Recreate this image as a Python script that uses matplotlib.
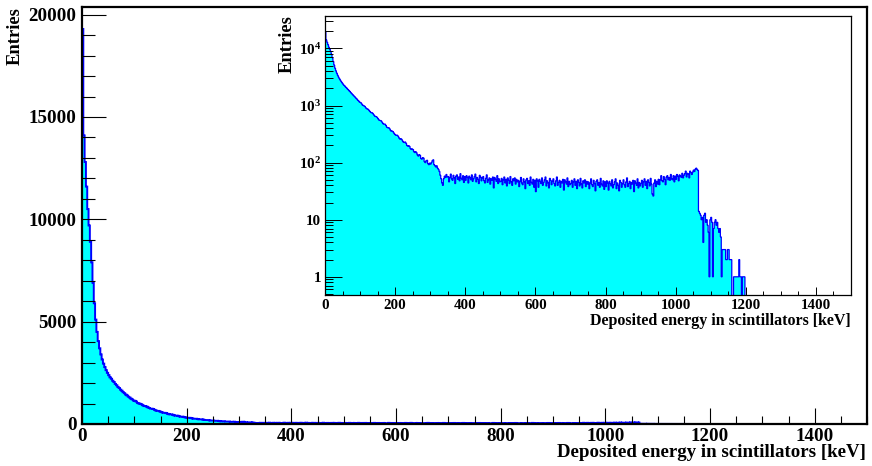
import numpy as np
import matplotlib
matplotlib.use("Agg")
import matplotlib.pyplot as plt
from matplotlib.ticker import MultipleLocator, FixedLocator, FixedFormatter, NullFormatter

plt.rcParams['font.family'] = ['Liberation Serif', 'DejaVu Serif']
plt.rcParams['font.weight'] = 'bold'
plt.rcParams['mathtext.fontset'] = 'custom'
plt.rcParams['mathtext.rm'] = 'Liberation Serif:bold'
plt.rcParams['mathtext.bf'] = 'Liberation Serif:bold'

# histogram: 2.5 keV bins from 0 to 1500 keV
bin_width = 2.5
bin_edges = np.arange(0, 1500 + bin_width, bin_width)

# 0-100 keV
counts_0_100 = [19300, 14100, 12800, 11600, 10500, 9700, 8900, 7900, 6900, 5900,
                5100, 4500, 4050, 3700, 3400, 3150, 2950, 2780, 2630, 2500,
                2385, 2280, 2210, 2115, 2050, 1960, 1895, 1815, 1760, 1680,
                1625, 1555, 1505, 1440, 1395, 1335, 1295, 1238, 1200, 1148]
# 100-300 keV
counts_100_300 = [1130, 1095, 1030, 1005, 985, 965, 918, 880, 872, 851,
                  812, 780, 752, 748, 730, 695, 662, 642, 640, 618,
                  588, 560, 548, 545, 530, 500, 478, 470, 472, 448,
                  420, 408, 410, 398, 372, 356, 358, 350, 332, 316,
                  305, 300, 302, 288, 270, 258, 262, 256, 240, 228,
                  225, 230, 218, 200, 194, 198, 192, 176, 170, 174,
                  168, 155, 150, 156, 149, 136, 130, 138, 134, 118,
                  115, 122, 120, 104, 100, 108, 110, 96, 92, 98]
# 300-350 keV (Compton edge of the 511 keV line)
counts_300_350 = [94, 100, 108, 112, 92, 88, 84, 88, 80, 76,
                  70, 60, 52, 44, 40, 52, 58, 55, 62, 56]
# 350-1050 keV plateau
counts_350_1050 = [
    57, 46, 55, 63, 52, 49, 60, 54, 43, 58, 61, 51, 56, 48, 64, 53, 50, 59, 45, 57,
    49, 59, 55, 44, 58, 54, 50, 61, 47, 52, 57, 63, 46, 55, 51, 43, 60, 56, 48, 54,
    57, 48, 44, 53, 61, 45, 50, 54, 42, 52, 49, 56, 36, 55, 51, 47, 59, 43, 52, 46,
    47, 53, 41, 50, 56, 44, 51, 39, 54, 49, 43, 57, 46, 40, 52, 48, 54, 42, 51, 46,
    49, 38, 47, 55, 44, 41, 52, 46, 35, 50, 53, 43, 48, 40, 56, 45, 42, 51, 37, 49,
    31, 52, 48, 37, 51, 47, 43, 54, 40, 45, 50, 56, 39, 48, 44, 36, 53, 49, 41, 47,
    52, 43, 39, 48, 56, 40, 45, 49, 37, 47, 44, 51, 33, 50, 46, 42, 54, 38, 47, 41,
    43, 49, 37, 46, 52, 40, 47, 35, 50, 45, 39, 53, 42, 36, 48, 44, 50, 38, 47, 42,
    46, 35, 44, 52, 41, 38, 49, 43, 32, 47, 50, 40, 45, 37, 53, 42, 39, 48, 34, 46,
    38, 48, 44, 33, 47, 43, 39, 50, 36, 41, 46, 52, 35, 44, 40, 32, 49, 45, 37, 43,
    50, 41, 37, 46, 54, 38, 43, 47, 35, 45, 42, 49, 31, 48, 44, 40, 52, 36, 45, 39,
    43, 49, 37, 46, 52, 40, 47, 35, 50, 45, 39, 53, 42, 28, 26, 44, 50, 38, 47, 42,
    51, 41, 50, 59, 48, 46, 57, 51, 41, 56, 59, 50, 55, 49, 62, 52, 50, 59, 46, 58,
    51, 62, 58, 48, 61, 58, 55, 65, 54, 60, 64, 71, 56, 65, 63, 54, 71, 67, 62, 68]
# 1050-1065 keV (Compton edge of the 1274 keV line)
counts_1050_1065 = [74, 70, 77, 80, 76, 73]
# 1065-1200 keV tail
counts_1065_1200 = [14, 13, 12, 10, 11, 4, 12, 13, 9, 10,
                    8, 6, 1, 10, 11, 9, 1, 7, 9, 10,
                    8, 9, 7, 6, 7, 5, 1, 3, 3, 3,
                    3, 2, 2, 3, 3, 2, 2, 2, 0, 0,
                    1, 1, 1, 1, 1, 1, 2, 1, 1, 0,
                    1, 1, 1, 0]

counts = (counts_0_100 + counts_100_300 + counts_300_350 + counts_350_1050
          + counts_1050_1065 + counts_1065_1200)
n_bins = len(bin_edges) - 1
counts = np.array(counts + [0] * (n_bins - len(counts)), dtype=float)

fill_col = '#00ffff'
line_col = '#0000ff'

fig = plt.figure(figsize=(8.72, 4.66), dpi=100)

# ---- main (linear) plot ----
ax = fig.add_axes([82 / 872, 1 - 424 / 466, 785 / 872, 416.5 / 466])
ax.stairs(counts, bin_edges, fill=True, color=fill_col, lw=0)
ax.stairs(counts, bin_edges, color=line_col, lw=1.4)
ax.set_xlim(0, 1500)
ax.set_ylim(0, 20350)
ax.xaxis.set_major_locator(MultipleLocator(200))
ax.xaxis.set_minor_locator(MultipleLocator(50))
ax.yaxis.set_major_locator(MultipleLocator(5000))
ax.yaxis.set_minor_locator(MultipleLocator(1000))
ax.tick_params(axis='x', which='major', direction='in', length=11.5, width=0.8,
               labelsize=13.7, pad=3)
ax.tick_params(axis='x', which='minor', direction='in', length=5.8, width=0.8)
ax.tick_params(axis='y', which='major', direction='in', length=17, width=0.8,
               labelsize=13.7, pad=4)
ax.tick_params(axis='y', which='minor', direction='in', length=9, width=0.8)
for s in ax.spines.values():
    s.set_linewidth(1.6)
fig.text(866 / 872, 1 - 457 / 466, 'Deposited energy in scintillators [keV]',
         ha='right', va='baseline', fontsize=13.6, fontweight='bold')
fig.text(15 / 872, 1 - 7 / 466, 'Entries', rotation=90, ha='center', va='top',
         fontsize=13.4, fontweight='bold')

# ---- inset (log) plot ----
ins = fig.add_axes([325 / 872, 1 - 295 / 466, 526 / 872, 279 / 466])
ins.set_facecolor('white')
log_counts = np.where(counts > 0, counts, 1e-2)
ins.stairs(log_counts, bin_edges, fill=True, color=fill_col, lw=0, baseline=1e-2)
ins.stairs(log_counts, bin_edges, color=line_col, lw=0.9, baseline=1e-2)
ins.set_yscale('log')
ins.set_xlim(0, 1500)
ins.set_ylim(0.48, 3.7e4)
ins.xaxis.set_major_locator(MultipleLocator(200))
ins.xaxis.set_minor_locator(MultipleLocator(50))
ins.yaxis.set_major_locator(FixedLocator([1, 10, 100, 1000, 10000]))
ins.yaxis.set_major_formatter(FixedFormatter(
    ['1', '10', r'$\mathbf{10^{2}}$', r'$\mathbf{10^{3}}$', r'$\mathbf{10^{4}}$']))
minor = [m * 10 ** d for d in range(-1, 5) for m in range(2, 10)]
ins.yaxis.set_minor_locator(FixedLocator(minor))
ins.yaxis.set_minor_formatter(NullFormatter())
ins.tick_params(axis='x', which='major', direction='in', length=6, width=0.7,
                labelsize=10.8, pad=3)
ins.tick_params(axis='x', which='minor', direction='in', length=3, width=0.7)
ins.tick_params(axis='y', which='major', direction='in', length=12, width=0.7,
                labelsize=10.8, pad=3)
ins.tick_params(axis='y', which='minor', direction='in', length=6, width=0.7)
for s in ins.spines.values():
    s.set_linewidth(0.9)
fig.text(851 / 872, 1 - 325 / 466, 'Deposited energy in scintillators [keV]',
         ha='right', va='baseline', fontsize=11.5, fontweight='bold')
fig.text(287 / 872, 1 - 15 / 466, 'Entries', rotation=90, ha='center', va='top',
         fontsize=13.4, fontweight='bold')

fig.savefig('out.png', dpi=100)
